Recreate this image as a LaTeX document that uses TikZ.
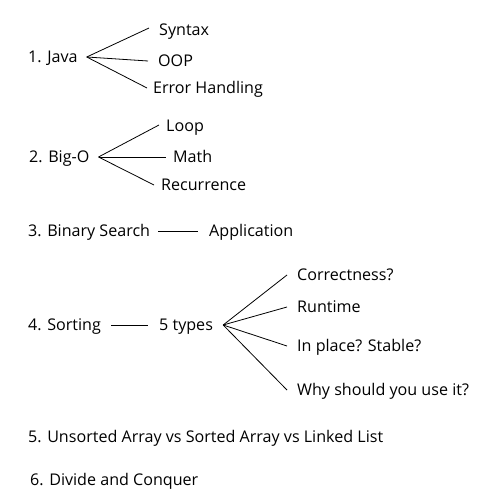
\documentclass[tikz,border=0pt]{standalone}
\usepackage{fontspec}
\setmainfont{Open Sans}
\begin{document}
\begin{tikzpicture}[x=1pt,y=-1pt,
  lbl/.style={anchor=west,inner xsep=0pt,inner ysep=0pt,text height=11.5pt,text depth=0pt,font=\fontsize{16.1}{19}\selectfont},
  conn/.style={line width=0.8pt,black}]
\useasboundingbox (0,0) rectangle (494,497);
% 1. Java
\node[lbl] (java) at (28,57) {1. Java};
\node[lbl] (syn) at (159,30) {Syntax};
\node[lbl] (oop) at (158,61) {OOP};
\node[lbl] (err) at (153,88) {Error Handling};
\draw[conn] ([xshift=9pt]java.east) -- ([xshift=-10pt,yshift=2pt]syn.west);
\draw[conn] ([xshift=9pt]java.east) -- ([xshift=-10pt]oop.west);
\draw[conn] ([xshift=9pt]java.east) -- ([xshift=-6pt]err.west);
% 2. Big-O
\node[lbl] (bigo) at (29,157) {2. Big-O};
\node[lbl] (loop) at (166,126) {Loop};
\node[lbl] (math) at (173,157) {Math};
\node[lbl] (rec) at (161,185) {Recurrence};
\draw[conn] ([xshift=9pt]bigo.east) -- ([xshift=-7pt,yshift=1pt]loop.west);
\draw[conn] ([xshift=9pt]bigo.east) -- ([xshift=-7pt]math.west);
\draw[conn] ([xshift=9pt]bigo.east) -- ([xshift=-7pt]rec.west);
% 3. Binary Search
\node[lbl] (bs) at (28,231) {3. Binary Search};
\node[lbl] (app) at (209,231) {Application};
\draw[conn] ([xshift=8pt]bs.east) -- ([xshift=-11pt]app.west);
% 4. Sorting
\node[lbl] (sort) at (28,325) {4. Sorting};
\node[lbl] (types) at (159,325) {5 types};
\node[lbl] (corr) at (297,275) {Correctness?};
\node[lbl] (run) at (297,307) {Runtime};
\node[lbl] (inpl) at (297,346) {In place? Stable?};
\node[lbl] (why) at (297,390) {Why should you use it?};
\draw[conn] ([xshift=10pt]sort.east) -- ([xshift=-11pt]types.west);
\draw[conn] ([xshift=10pt]types.east) -- ([xshift=-10pt]corr.west);
\draw[conn] ([xshift=10pt]types.east) -- ([xshift=-10pt]run.west);
\draw[conn] ([xshift=10pt]types.east) -- ([xshift=-10pt]inpl.west);
\draw[conn] ([xshift=10pt]types.east) -- ([xshift=-10pt]why.west);
% 5, 6
\node[lbl] (five) at (28,437) {5. Unsorted Array vs Sorted Array vs Linked List};
\node[lbl] (six) at (30,480) {6. Divide and Conquer};
\end{tikzpicture}
\end{document}
